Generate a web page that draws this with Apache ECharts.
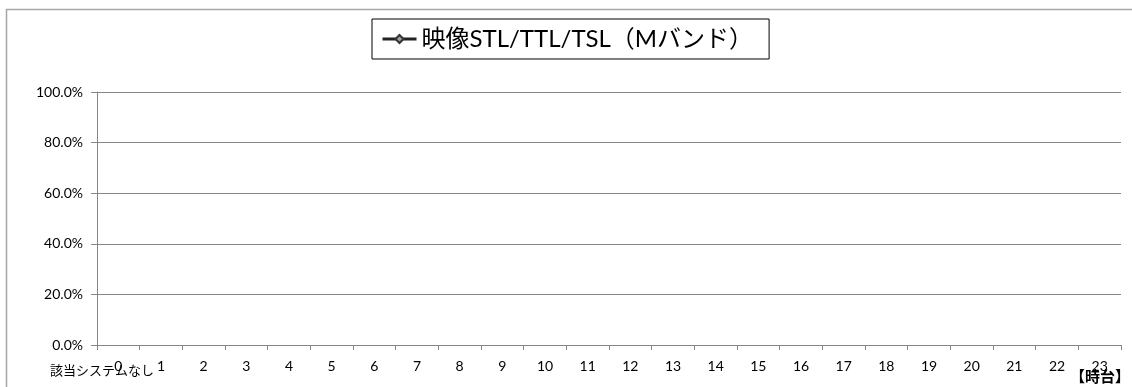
<!DOCTYPE html>
<html><head><meta charset="utf-8">
<script src="https://cdn.jsdelivr.net/npm/echarts@6/dist/echarts.min.js"></script>
<style>html,body{margin:0;padding:0;background:#fff}#c{width:1132px;height:387px}</style>
</head><body><div id="c"></div>
<script>
const categories = ['0','1','2','3','4','5','6','7','8','9','10','11','12','13','14','15','16','17','18','19','20','21','22','23'];
const seriesName = '映像STL/TTL/TSL（Mバンド）';
const seriesValues = [null,null,null,null,null,null,null,null,null,null,null,null,null,null,null,null,null,null,null,null,null,null,null,null];
const yTicks = [0, 0.2, 0.4, 0.6, 0.8, 1.0];
const noteText = '該当システムなし';
const unitText = '【時台】';

const font = 'Lato, "Noto Sans CJK JP", sans-serif';
const chart = echarts.init(document.getElementById('c'), null, {renderer:'canvas'});
chart.setOption({
  animation:false,
  backgroundColor:'#fff',
  grid:{left:97, right:11, top:92, bottom:42, containLabel:false},
  legend:{
    data:[seriesName],
    left:372, top:19,
    padding:[8,16,8,9],
    borderColor:'#000', borderWidth:1,
    itemWidth:34, itemHeight:10, itemGap:4,
    lineStyle:{width:3, color:'#222'},
    textStyle:{fontSize:24, color:'#000', fontFamily:font}
  },
  xAxis:{
    type:'category', data:categories, boundaryGap:true,
    axisLine:{lineStyle:{color:'#868686', width:1}},
    axisTick:{show:true, length:5, lineStyle:{color:'#868686'}},
    axisLabel:{fontSize:14, color:'#000', fontFamily:font, margin:14}
  },
  yAxis:{
    type:'value', min:yTicks[0], max:yTicks[yTicks.length-1], interval:0.2,
    axisLine:{show:true, lineStyle:{color:'#868686', width:1}},
    axisTick:{show:true, length:6, lineStyle:{color:'#868686'}},
    splitLine:{show:true, lineStyle:{color:'#868686', width:1}},
    axisLabel:{fontSize:14, color:'#000', fontFamily:font, margin:14,
      formatter:v=>(v*100).toFixed(1)+'%'}
  },
  series:[{
    name:seriesName, type:'line', data:seriesValues,
    symbol:'diamond', symbolSize:10,
    itemStyle:{color:'#a0a0a0', borderColor:'#333', borderWidth:1},
    lineStyle:{color:'#222', width:2.5}
  }],
  graphic:[
    {type:'polyline', shape:{points:[[6.5,400],[6.5,9.5],[1140,9.5]]},
      style:{stroke:'#a6a6a6', lineWidth:1.5, fill:null}},
    {type:'text', left:50, top:364, style:{text:noteText, fill:'#000', font:'13px "Noto Sans CJK JP", sans-serif'}},
    {type:'text', right:2, top:369, style:{text:unitText, fill:'#000', font:'bold 15px "Noto Sans CJK JP", sans-serif'}}
  ]
});
</script></body></html>
